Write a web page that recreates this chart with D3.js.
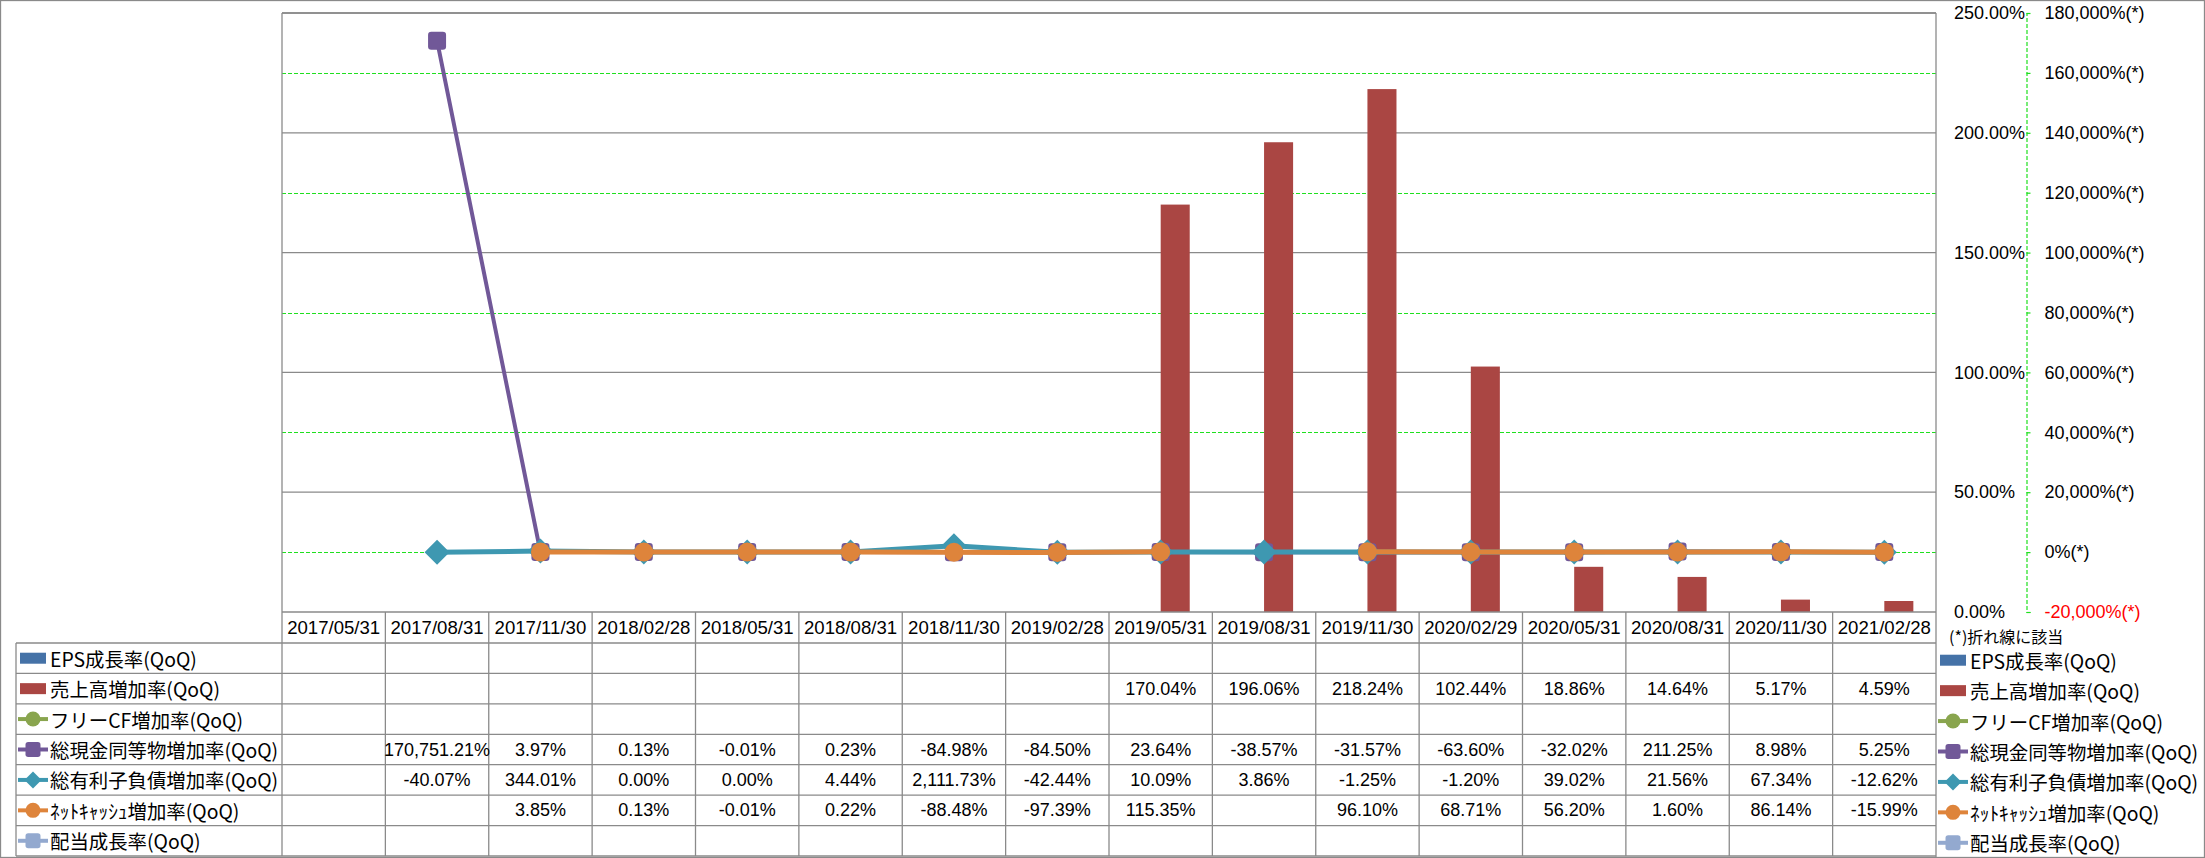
<!DOCTYPE html>
<html><head><meta charset="utf-8">
<script src="https://cdn.jsdelivr.net/npm/d3@7/dist/d3.min.js"></script>
<style>
html,body{margin:0;padding:0;background:#fff;}
svg{display:block;}
</style></head>
<body>
<svg id="chart" width="2205" height="858"></svg>
<script>
// ---------------- DATA ----------------
const categories = ['2017/05/31','2017/08/31','2017/11/30','2018/02/28','2018/05/31','2018/08/31','2018/11/30','2019/02/28','2019/05/31','2019/08/31','2019/11/30','2020/02/29','2020/05/31','2020/08/31','2020/11/30','2021/02/28'];
const seriesNames = ['EPS成長率(QoQ)','売上高増加率(QoQ)','フリーCF増加率(QoQ)','総現金同等物増加率(QoQ)','総有利子負債増加率(QoQ)','ﾈｯﾄｷｬｯｼｭ増加率(QoQ)','配当成長率(QoQ)'];
const epsGrowth      = [null,null,null,null,null,null,null,null,null,null,null,null,null,null,null,null];
const salesGrowth    = [null,null,null,null,null,null,null,null,170.04,196.06,218.24,102.44,18.86,14.64,5.17,4.59];
const freeCfGrowth   = [null,null,null,null,null,null,null,null,null,null,null,null,null,null,null,null];
const cashGrowth     = [null,170751.21,3.97,0.13,-0.01,0.23,-84.98,-84.50,23.64,-38.57,-31.57,-63.60,-32.02,211.25,8.98,5.25];
const debtGrowth     = [null,-40.07,344.01,0.00,0.00,4.44,2111.73,-42.44,10.09,3.86,-1.25,-1.20,39.02,21.56,67.34,-12.62];
const netCashGrowth  = [null,null,3.85,0.13,-0.01,0.22,-88.48,-97.39,115.35,null,96.10,68.71,56.20,1.60,86.14,-15.99];
const dividendGrowth = [null,null,null,null,null,null,null,null,null,null,null,null,null,null,null,null];
const leftTicks  = [0,50,100,150,200,250];
const rightTicks = [-20000,0,20000,40000,60000,80000,100000,120000,140000,160000,180000];
const rightGridTicks = [0,40000,80000,120000,160000];
const footnote = '(*)折れ線に該当';

// ---------------- STYLE / LAYOUT ----------------
const colors = ['#4572A7','#AA4643','#89A54E','#715898','#3E98B1','#DE843B','#93A9CF'];
const kinds  = ['bar','bar','circle','square','diamond','circle','square'];
const values = [epsGrowth, salesGrowth, freeCfGrowth, cashGrowth, debtGrowth, netCashGrowth, dividendGrowth];
const W = 2205, H = 858;
const plotL = 282, plotR = 1936, plotT = 13, plotB = 612;
const tableB = 856;
const gray = '#8a8a8a', green = '#1fe01f';
const numFont = '"Liberation Sans", Arial, sans-serif';
const jpFont = '"Noto Sans CJK JP", "Noto Sans", sans-serif';

const svg = d3.select('#chart');

const x0 = d3.scaleBand().domain(categories).range([plotL, plotR]).paddingInner(0).paddingOuter(0);
const barSeries = [seriesNames[0], seriesNames[1]];
const x1 = d3.scaleBand().domain(barSeries).range([0, x0.bandwidth()]).paddingInner(0).paddingOuter(0.78);
const yL = d3.scaleLinear().domain([0, 250]).range([plotB, plotT]);
const yR = d3.scaleLinear().domain([-20000, 180000]).range([plotB, plotT]);
const rowY = d3.scaleBand().domain(seriesNames).range([643, tableB]);
const fixMinus = s => s.replace(/\u2212/g, '-');
const fmt = v => fixMinus(d3.format(',.2f')(v)) + '%';

// outer border
svg.append('rect').attr('x',0.5).attr('y',0.5).attr('width',W-1).attr('height',H-1)
  .attr('fill','#fff').attr('stroke',gray).attr('stroke-width',1.3);

// gridlines: gray solid for left axis
svg.append('g').selectAll('line').data(leftTicks.filter(d => d > 0)).join('line')
  .attr('x1', plotL).attr('x2', plotR).attr('y1', d => yL(d)).attr('y2', d => yL(d))
  .attr('stroke', gray).attr('stroke-width', 1.3);
// green dashed for right axis
svg.append('g').selectAll('line').data(rightGridTicks).join('line')
  .attr('x1', plotL).attr('x2', plotR).attr('y1', d => Math.round(yR(d))+0.5).attr('y2', d => Math.round(yR(d))+0.5)
  .attr('stroke', green).attr('stroke-width', 1.2).attr('stroke-dasharray','4,2');

// plot left border
svg.append('line').attr('x1',plotL).attr('x2',plotL).attr('y1',plotT).attr('y2',plotB).attr('stroke',gray).attr('stroke-width',1.3);

// bars
values.forEach((vals, si) => {
  if (kinds[si] !== 'bar') return;
  svg.append('g').selectAll('rect').data(categories.map((c,i)=>({c, v: vals[i]})).filter(d => d.v != null)).join('rect')
    .attr('x', d => x0(d.c) + x1(seriesNames[si]))
    .attr('width', x1.bandwidth())
    .attr('y', d => yL(d.v))
    .attr('height', d => yL(0) - yL(d.v))
    .attr('fill', colors[si]);
});

// marker drawing helper
function marker(g, kind, color, size) {
  if (kind === 'circle') {
    g.append('circle').attr('r', size/2).attr('fill', color);
  } else if (kind === 'square') {
    g.append('rect').attr('x',-size/2).attr('y',-size/2).attr('width',size).attr('height',size)
      .attr('rx', size*0.18).attr('fill', color);
  } else if (kind === 'diamond') {
    const s = size/2;
    g.append('path').attr('d', `M0,${-s}L${s},0L0,${s}L${-s},0Z`).attr('fill', color);
  }
}

// lines (secondary axis)
const lineWidths = {2:4, 3:4, 4:5, 5:5, 6:4};
const markerSizes = {circle:19, square:18, diamond:25};
values.forEach((vals, si) => {
  if (kinds[si] === 'bar') return;
  const pts = categories.map((c,i)=>({c, v: vals[i]}));
  const line = d3.line().defined(d => d.v != null)
    .x(d => x0(d.c) + x0.bandwidth()/2).y(d => yR(d.v));
  svg.append('path').datum(pts).attr('d', line).attr('fill','none')
    .attr('stroke', colors[si]).attr('stroke-width', lineWidths[si]).attr('stroke-linejoin','round');
  pts.filter(d => d.v != null).forEach(d => {
    const g = svg.append('g').attr('transform', `translate(${x0(d.c)+x0.bandwidth()/2},${yR(d.v)})`);
    marker(g, kinds[si], colors[si], markerSizes[kinds[si]]);
  });
});

// top border
svg.append('line').attr('x1',plotL).attr('x2',plotR).attr('y1',plotT).attr('y2',plotT).attr('stroke',gray).attr('stroke-width',1.3);

// primary axis labels (left-aligned at x=1954)
const axL = svg.append('g').attr('transform','translate(1954,0)')
  .call(d3.axisRight(yL).tickValues(leftTicks).tickSize(0).tickPadding(0).tickFormat(fmt));
axL.select('.domain').remove();
axL.selectAll('text').attr('font-family', numFont).attr('font-size', 18).attr('fill','#000').attr('text-anchor','start');

// secondary axis
const axR = svg.append('g').attr('transform','translate(2026.5,0)')
  .call(d3.axisRight(yR).tickValues(rightTicks).tickSize(4).tickPadding(14)
    .tickFormat(v => fixMinus(d3.format(',')(v)) + '%(*)'));
axR.select('.domain').attr('stroke', green).attr('stroke-width',1.2).attr('stroke-dasharray','4,2');
axR.selectAll('.tick line').attr('stroke', green).attr('stroke-width',1.2);
axR.selectAll('text').attr('font-family', numFont).attr('font-size', 18)
  .attr('fill', d => d < 0 ? '#ff0000' : '#000');

// ---------------- DATA TABLE ----------------
const tbl = svg.append('g');
// header cells
tbl.selectAll('text.hdr').data(categories).join('text').attr('class','hdr')
  .attr('x', d => x0(d) + x0.bandwidth()/2).attr('y', (612+643)/2)
  .attr('text-anchor','middle').attr('dominant-baseline','central')
  .attr('font-family', numFont).attr('font-size', 18.6).attr('fill','#000').text(d => d);
// horizontal lines
tbl.append('line').attr('x1',plotL).attr('x2',plotR).attr('y1',plotB).attr('y2',plotB).attr('stroke',gray).attr('stroke-width',1.3);
tbl.selectAll('line.h').data(seriesNames).join('line').attr('class','h')
  .attr('x1',16).attr('x2',plotR).attr('y1', d => rowY(d)).attr('y2', d => rowY(d))
  .attr('stroke',gray).attr('stroke-width',1.3);
tbl.append('line').attr('x1',16).attr('x2',plotR).attr('y1',tableB).attr('y2',tableB).attr('stroke',gray).attr('stroke-width',1.3);
// vertical lines
tbl.selectAll('line.v').data(categories).join('line').attr('class','v')
  .attr('x1', d => x0(d)).attr('x2', d => x0(d)).attr('y1', plotB).attr('y2', tableB)
  .attr('stroke',gray).attr('stroke-width',1.3);
tbl.append('line').attr('x1',16).attr('x2',16).attr('y1',643).attr('y2',tableB).attr('stroke',gray).attr('stroke-width',1.3);
tbl.append('line').attr('x1',plotR).attr('x2',plotR).attr('y1',plotT).attr('y2',H).attr('stroke',gray).attr('stroke-width',1.3);

// values
values.forEach((vals, si) => {
  tbl.append('g').selectAll('text').data(categories.map((c,i)=>({c, v: vals[i]})).filter(d => d.v != null)).join('text')
    .attr('x', d => x0(d.c) + x0.bandwidth()/2).attr('y', rowY(seriesNames[si]) + rowY.bandwidth()/2)
    .attr('text-anchor','middle').attr('dominant-baseline','central')
    .attr('font-family', numFont).attr('font-size', 18).attr('fill','#000')
    .text(d => fmt(d.v));
});

// legend entries (left in table and right side)
function legendSymbol(g, si, cx) {
  if (kinds[si] === 'bar') {
    g.append('rect').attr('x', cx-13).attr('y', -5.5).attr('width', 26).attr('height', 11).attr('fill', colors[si]);
  } else {
    g.append('line').attr('x1', cx-15).attr('x2', cx+15).attr('y1',0).attr('y2',0)
      .attr('stroke', colors[si]).attr('stroke-width', 4);
    const mg = g.append('g').attr('transform', `translate(${cx},0)`);
    marker(mg, kinds[si], colors[si], kinds[si]==='diamond' ? 17 : 15);
  }
}
seriesNames.forEach((name, si) => {
  const cy = rowY(name) + rowY.bandwidth()/2;
  const gl = svg.append('g').attr('transform', `translate(0,${cy})`);
  legendSymbol(gl, si, 33);
  gl.append('text').attr('x', 50).attr('y', 0).attr('dominant-baseline','central')
    .attr('font-family', jpFont).attr('font-size', 19.4).attr('fill','#000').text(name);
  const gr = svg.append('g').attr('transform', `translate(0,${cy+2})`);
  legendSymbol(gr, si, 1953);
  gr.append('text').attr('x', 1970).attr('y', 0).attr('dominant-baseline','central')
    .attr('font-family', jpFont).attr('font-size', 19.4).attr('fill','#000').text(name);
});
svg.append('text').attr('x', 1949).attr('y', 636).attr('dominant-baseline','central')
  .attr('font-family', jpFont).attr('font-size', 16).attr('fill','#000').text(footnote);
</script>
</body></html>
